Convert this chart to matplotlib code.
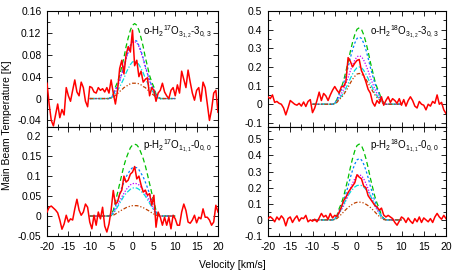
import numpy as np
import matplotlib.pyplot as plt
from matplotlib.ticker import MultipleLocator

plt.rcParams['font.family'] = ['Liberation Sans', 'DejaVu Sans']
plt.rcParams['mathtext.fontset'] = 'custom'
plt.rcParams['mathtext.rm'] = 'Liberation Sans'
plt.rcParams['mathtext.it'] = 'Liberation Sans'

# observed channels (km/s)
vel = np.arange(-20, 20.5, 0.5)
# model grid (km/s)
model_v = [-10, -8, -6, -5.5, -5, -4.5, -4, -3.5, -3, -2.5, -2, -1.5, -1, -0.5, 0,
           0.5, 1, 1.5, 2, 2.5, 3, 3.5, 4, 4.5, 5, 5.5, 6, 6.5, 7, 8, 10]

# o-H2 17O 3(1,2)-3(0,3)
obs_o17 = [0.028, -0.01, -0.04, -0.05, -0.03, -0.01, -0.035, -0.02, -0.03, 0.02,
           0.005, -0.005, 0.015, 0.034, 0.012, 0.005, 0.03, 0.02, -0.005, -0.015,
           0.022, 0.02, 0.012, 0.01, 0.02, 0.015, 0.018, 0.012, 0.02, 0.01,
           0.034, 0.01, -0.01, 0.015, 0.055, 0.07, 0.045, 0.08, 0.095, 0.085,
           0.125, 0.06, 0.07, 0.04, 0.05, 0.03, 0.035, 0.038, 0.005, 0.02,
           0.015, -0.005, 0.01, 0.015, 0.028, 0.012, 0.005, 0.0, 0.015, 0.02,
           0.005, 0.025, 0.01, 0.05, 0.035, 0.02, 0.052, 0.03, 0.01, -0.003,
           0.015, 0.02, -0.005, 0.03, 0.02, -0.01, -0.04, -0.02, 0.01, 0.015, -0.025]
o17_green = [0, 0, 0, 0, 0.003, 0.008, 0.021, 0.030, 0.042, 0.059, 0.075, 0.095, 0.111, 0.125, 0.134, 0.137,
             0.134, 0.125, 0.111, 0.095, 0.075, 0.059, 0.042, 0.030, 0.021, 0.008, 0.003, 0, 0, 0, 0]
o17_blue = [0, 0, 0, 0, 0.002, 0.006, 0.016, 0.024, 0.033, 0.046, 0.059, 0.074, 0.087, 0.097, 0.105, 0.107,
            0.105, 0.097, 0.087, 0.074, 0.059, 0.046, 0.033, 0.024, 0.016, 0.006, 0.002, 0, 0, 0, 0]
o17_magenta = [0, 0, 0, 0, 0.002, 0.006, 0.016, 0.023, 0.032, 0.045, 0.057, 0.072, 0.084, 0.095, 0.102, 0.104,
               0.102, 0.095, 0.084, 0.072, 0.057, 0.045, 0.032, 0.023, 0.016, 0.006, 0.002, 0, 0, 0, 0]
o17_cyan = [0, 0, 0, 0, 0.001, 0.004, 0.010, 0.015, 0.021, 0.029, 0.037, 0.047, 0.055, 0.062, 0.067, 0.068,
            0.067, 0.062, 0.055, 0.047, 0.037, 0.029, 0.021, 0.015, 0.010, 0.004, 0.001, 0, 0, 0, 0]
o17_orange = [0, 0, 0, 0, 0.001, 0.002, 0.006, 0.009, 0.013, 0.016, 0.020, 0.022, 0.025, 0.027, 0.028, 0.028,
              0.028, 0.027, 0.025, 0.022, 0.020, 0.016, 0.013, 0.009, 0.006, 0.002, 0.001, 0, 0, 0, 0]

# o-H2 18O 3(1,2)-3(0,3)
obs_o18 = [0.04, 0.03, 0.05, 0.01, 0.015, 0.005, 0.0, -0.02, -0.057, -0.02,
           0.02, 0.01, 0.0, -0.005, 0.005, -0.01, 0.012, -0.012, 0.015, 0.025,
           -0.045, -0.02, 0.02, 0.065, 0.02, 0.058, 0.045, 0.02, 0.05, 0.075,
           0.095, 0.075, 0.06, 0.095, 0.095, 0.12, 0.25, 0.23, 0.2, 0.22,
           0.235, 0.24, 0.18, 0.155, 0.12, 0.08, 0.06, 0.01, -0.01, 0.02,
           0.005, 0.04, -0.005, 0.02, 0.04, 0.01, 0.03, 0.02, 0.005, 0.03,
           -0.005, 0.025, -0.01, 0.02, 0.04, 0.02, -0.01, -0.02, 0.015, 0.0,
           -0.005, -0.03, 0.0, -0.01, 0.015, 0.005, 0.05, 0.0, 0.01, -0.03, -0.05]
o18_green = [0, 0, 0, 0, 0.008, 0.025, 0.062, 0.090, 0.127, 0.176, 0.226, 0.283, 0.332, 0.373, 0.402, 0.41,
             0.402, 0.373, 0.332, 0.283, 0.226, 0.176, 0.127, 0.090, 0.062, 0.025, 0.008, 0, 0, 0, 0]
o18_blue = [0, 0, 0, 0, 0.007, 0.022, 0.054, 0.079, 0.112, 0.155, 0.198, 0.248, 0.292, 0.328, 0.353, 0.36,
            0.353, 0.328, 0.292, 0.248, 0.198, 0.155, 0.112, 0.079, 0.054, 0.022, 0.007, 0, 0, 0, 0]
o18_magenta = [0, 0, 0, 0, 0.005, 0.016, 0.039, 0.057, 0.081, 0.112, 0.143, 0.179, 0.211, 0.237, 0.255, 0.26,
               0.255, 0.237, 0.211, 0.179, 0.143, 0.112, 0.081, 0.057, 0.039, 0.016, 0.005, 0, 0, 0, 0]
o18_cyan = [0, 0, 0, 0, 0.004, 0.012, 0.030, 0.044, 0.062, 0.086, 0.110, 0.138, 0.162, 0.182, 0.196, 0.20,
            0.196, 0.182, 0.162, 0.138, 0.110, 0.086, 0.062, 0.044, 0.030, 0.012, 0.004, 0, 0, 0, 0]
o18_orange = [0, 0, 0, 0, 0.003, 0.010, 0.025, 0.036, 0.051, 0.071, 0.091, 0.114, 0.134, 0.150, 0.162, 0.165,
              0.162, 0.150, 0.134, 0.114, 0.091, 0.071, 0.051, 0.036, 0.025, 0.010, 0.003, 0, 0, 0, 0]

# p-H2 17O 1(1,1)-0(0,0)
obs_p17 = [0.01, 0.022, 0.025, 0.02, 0.015, 0.008, -0.01, -0.033, -0.02, 0.002,
           -0.015, -0.007, -0.01, 0.018, 0.042, 0.015, 0.002, 0.01, 0.03, 0.022,
           -0.015, -0.032, 0.002, -0.023, 0.01, -0.007, 0.022, -0.025, -0.04, -0.02,
           0.015, 0.064, 0.03, 0.035, 0.055, 0.065, 0.1, 0.085, 0.09, 0.105,
           0.11, 0.124, 0.093, 0.1, 0.078, 0.06, 0.065, 0.052, 0.056, 0.027,
           0.052, -0.028, 0.01, -0.003, -0.023, -0.003, -0.023, -0.003, -0.032, 0.002,
           -0.007, -0.023, -0.023, 0.01, 0.03, 0.014, -0.015, -0.018, -0.01, 0.002,
           -0.017, -0.003, -0.007, 0.018, -0.003, -0.003, -0.01, -0.023, -0.015, 0.027, 0.01]
p17_green = [0, 0, 0, 0, 0.004, 0.014, 0.036, 0.058, 0.081, 0.104, 0.126, 0.144, 0.158, 0.171, 0.178, 0.18,
             0.178, 0.171, 0.158, 0.144, 0.126, 0.104, 0.081, 0.058, 0.036, 0.014, 0.004, 0, 0, 0, 0]
p17_blue = [0, 0, 0, 0, 0.002, 0.010, 0.024, 0.039, 0.055, 0.071, 0.085, 0.098, 0.107, 0.116, 0.121, 0.122,
            0.121, 0.116, 0.107, 0.098, 0.085, 0.071, 0.055, 0.039, 0.024, 0.010, 0.002, 0, 0, 0, 0]
p17_magenta = [0, 0, 0, 0, 0.002, 0.007, 0.016, 0.026, 0.037, 0.048, 0.057, 0.066, 0.072, 0.078, 0.081, 0.082,
               0.081, 0.078, 0.072, 0.066, 0.057, 0.048, 0.037, 0.026, 0.016, 0.007, 0.002, 0, 0, 0, 0]
p17_cyan = [0, 0, 0, 0, 0.001, 0.006, 0.014, 0.023, 0.032, 0.041, 0.050, 0.057, 0.062, 0.067, 0.070, 0.071,
            0.070, 0.067, 0.062, 0.057, 0.050, 0.041, 0.032, 0.023, 0.014, 0.006, 0.001, 0, 0, 0, 0]
p17_orange = [0, 0, 0, 0, 0.001, 0.002, 0.005, 0.008, 0.012, 0.015, 0.018, 0.021, 0.023, 0.025, 0.026, 0.026,
              0.026, 0.025, 0.023, 0.021, 0.018, 0.015, 0.012, 0.008, 0.005, 0.002, 0.001, 0, 0, 0, 0]

# p-H2 18O 1(1,1)-0(0,0)
obs_p18 = [0.008, 0.02, 0.008, -0.012, 0.018, 0.0, 0.025, 0.008, -0.037, 0.008,
           0.018, -0.016, 0.008, 0.025, -0.008, 0.012, 0.008, 0.028, -0.012, 0.0,
           -0.008, 0.004, -0.012, 0.012, 0.04, 0.018, 0.028, 0.004, 0.04, 0.012,
           0.028, 0.022, 0.048, 0.08, 0.12, 0.14, 0.17, 0.19, 0.21, 0.23,
           0.28, 0.265, 0.255, 0.21, 0.2, 0.15, 0.13, 0.11, 0.09, 0.08,
           0.06, 0.073, 0.03, 0.018, 0.028, 0.018, 0.008, -0.016, -0.033, -0.008,
           0.018, 0.008, -0.016, 0.012, -0.008, -0.022, 0.008, -0.012, 0.018, -0.016,
           0.012, 0.0, -0.012, 0.008, -0.016, 0.018, 0.04, 0.018, 0.004, 0.028, 0.008]
p18_green = [0, 0, 0, 0, 0.009, 0.028, 0.071, 0.103, 0.146, 0.202, 0.259, 0.324, 0.381, 0.428, 0.461, 0.47,
             0.461, 0.428, 0.381, 0.324, 0.259, 0.202, 0.146, 0.103, 0.071, 0.028, 0.009, 0, 0, 0, 0]
p18_blue = [0, 0, 0, 0, 0.008, 0.023, 0.057, 0.084, 0.118, 0.163, 0.209, 0.262, 0.308, 0.346, 0.372, 0.38,
            0.372, 0.346, 0.308, 0.262, 0.209, 0.163, 0.118, 0.084, 0.057, 0.023, 0.008, 0, 0, 0, 0]
p18_magenta = [0, 0, 0, 0, 0.006, 0.017, 0.042, 0.062, 0.087, 0.120, 0.154, 0.193, 0.227, 0.255, 0.274, 0.28,
               0.274, 0.255, 0.227, 0.193, 0.154, 0.120, 0.087, 0.062, 0.042, 0.017, 0.006, 0, 0, 0, 0]
p18_cyan = [0, 0, 0, 0, 0.004, 0.017, 0.043, 0.069, 0.097, 0.125, 0.151, 0.172, 0.189, 0.204, 0.213, 0.215,
            0.213, 0.204, 0.189, 0.172, 0.151, 0.125, 0.097, 0.069, 0.043, 0.017, 0.004, 0, 0, 0, 0]
p18_orange = [0, 0, 0, 0, 0.002, 0.009, 0.022, 0.035, 0.050, 0.064, 0.077, 0.088, 0.097, 0.105, 0.109, 0.11,
              0.109, 0.105, 0.097, 0.088, 0.077, 0.064, 0.050, 0.035, 0.022, 0.009, 0.002, 0, 0, 0, 0]

labels = [r'o-H$_2$$^{17}$O$_{3_{1,2}}$-3$_{0,3}$', r'o-H$_2$$^{18}$O$_{3_{1,2}}$-3$_{0,3}$',
          r'p-H$_2$$^{17}$O$_{1_{1,1}}$-0$_{0,0}$', r'p-H$_2$$^{18}$O$_{1_{1,1}}$-0$_{0,0}$']

# model line styles (gnuplot-like)
styles = [('#00c000', (0, (4, 2.5))), ('#0080ff', (0, (1.8, 1.8))), ('#c000ff', (0, (1, 1.3))),
          ('#00dddd', (0, (4, 1.5, 1, 1.5))), ('#c04000', (0, (3, 1.5, 1, 1.5, 1, 1.5)))]

panels = [
    (obs_o17, [o17_green, o17_blue, o17_magenta, o17_cyan, o17_orange], (-0.052, 0.16), 0.04),
    (obs_o18, [o18_green, o18_blue, o18_magenta, o18_cyan, o18_orange], (-0.122, 0.5), 0.1),
    (obs_p17, [p17_green, p17_blue, p17_magenta, p17_cyan, p17_orange], (-0.05, 0.223), 0.05),
    (obs_p18, [p18_green, p18_blue, p18_magenta, p18_cyan, p18_orange], (-0.1, 0.576), 0.1),
]

W, H = 463, 278
rects = [(47, 11, 171, 116), (268, 11, 178, 116), (47, 127, 171, 109), (268, 127, 178, 109)]

fig = plt.figure(figsize=(W / 100, H / 100), dpi=100)

for i, (obs, models, ylim, ystep) in enumerate(panels):
    x0, y0, w, h = rects[i]
    ax = fig.add_axes([x0 / W, 1 - (y0 + h) / H, w / W, h / H])
    for m, (col, ls) in zip(models, styles):
        ax.plot(model_v, m, color=col, ls=ls, lw=0.9)
    ax.plot(vel, obs, color='red', lw=1.1, zorder=5)
    ax.set_xlim(-20, 20)
    ax.set_ylim(*ylim)
    ax.xaxis.set_major_locator(MultipleLocator(5))
    ax.xaxis.set_minor_locator(MultipleLocator(2.5))
    ax.yaxis.set_major_locator(MultipleLocator(ystep))
    ax.yaxis.set_minor_locator(MultipleLocator(ystep / 2))
    ax.tick_params(which='both', direction='in', top=True, right=True, labelsize=7.5, width=0.6)
    ax.tick_params(which='major', length=3.5, pad=4)
    ax.tick_params(which='minor', length=2)
    ax.yaxis.set_major_formatter(plt.FuncFormatter(lambda v, p: '%g' % round(v, 3)))
    ax.xaxis.set_major_formatter(plt.FuncFormatter(lambda v, p: '%g' % v))
    if i < 2:
        ax.tick_params(labelbottom=False)
    for s in ax.spines.values():
        s.set_linewidth(0.8)
    ax.text(0.96, 0.82, labels[i], transform=ax.transAxes, ha='right', va='center', fontsize=7)

fig.text(7 / W, 1 - 125 / H, 'Main Beam Temperature [K]', rotation=90, ha='center', va='center', fontsize=7.5)
fig.text(232 / W, 1 - 265 / H, 'Velocity [km/s]', ha='center', va='center', fontsize=7.5)

fig.savefig('out.png', dpi=100)
